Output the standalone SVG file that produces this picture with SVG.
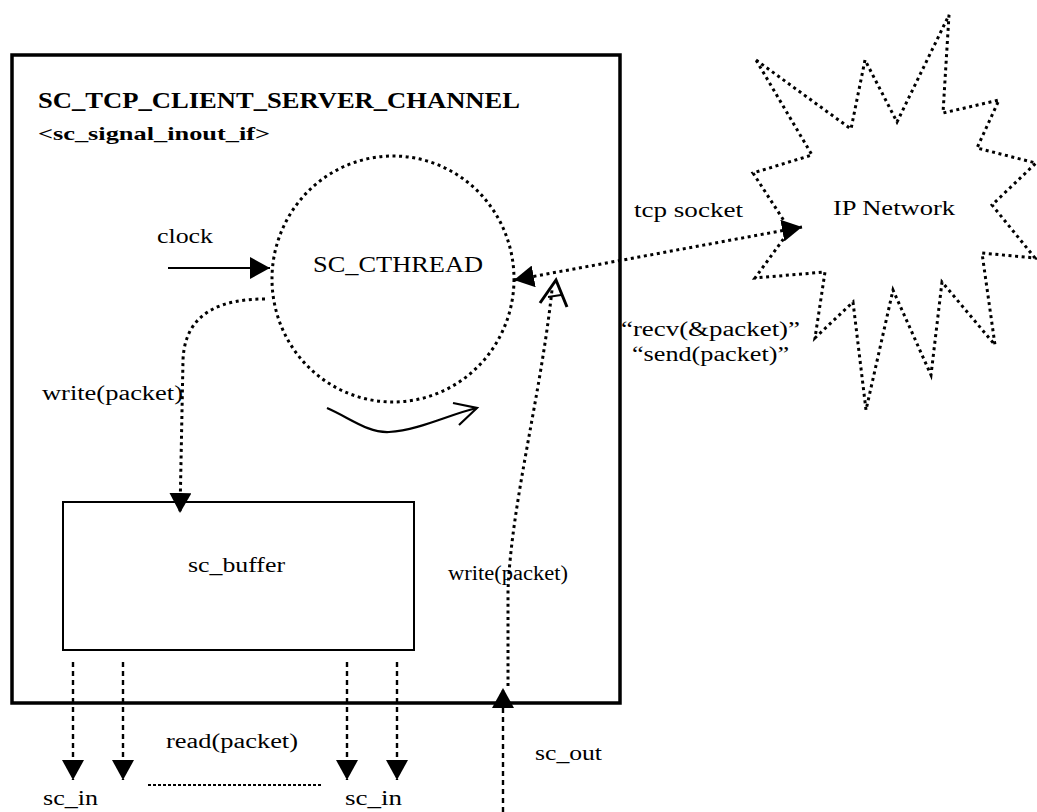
<svg xmlns="http://www.w3.org/2000/svg" width="1037" height="812" viewBox="0 0 1037 812">
<style>
text{font-family:"Liberation Serif","Times New Roman",serif;fill:#000}
.lbl{font-size:20px}
.dot{fill:none;stroke:#000;stroke-width:3;stroke-dasharray:3 3.6}
.dash{fill:none;stroke:#000;stroke-width:2.4;stroke-dasharray:5 4}
.solid{fill:none;stroke:#000;stroke-width:2.2}
</style>
<defs>
<marker id="tri" viewBox="0 0 20 22" refX="20" refY="11" markerWidth="20" markerHeight="22" markerUnits="userSpaceOnUse" orient="auto-start-reverse">
<path d="M0,0 L20,11 L0,22 Z" fill="#000" stroke="none"/>
</marker>
</defs>
<rect width="1037" height="812" fill="#fff"/>
<g id="channel">
<rect x="12" y="55" width="608" height="648" fill="none" stroke="#000" stroke-width="3.5"/>
<text x="38" y="108" font-size="24" font-weight="bold" textLength="482" lengthAdjust="spacingAndGlyphs">SC_TCP_CLIENT_SERVER_CHANNEL</text>
<text x="38" y="140" font-size="19" font-weight="bold" textLength="232" lengthAdjust="spacingAndGlyphs">&lt;sc_signal_inout_if&gt;</text>
</g>
<g id="cthread">
<ellipse cx="393" cy="279" rx="121" ry="123" class="dot"/>
<text x="313" y="272" font-size="23" textLength="170" lengthAdjust="spacingAndGlyphs">SC_CTHREAD</text>
</g>
<g id="buffer">
<rect x="63" y="502" width="351" height="148" fill="none" stroke="#000" stroke-width="2"/>
<text x="188" y="572" class="lbl" textLength="97" lengthAdjust="spacingAndGlyphs">sc_buffer</text>
</g>
<g id="network">
<polygon class="dot" points="756,60 851,129 865,60 897,122 949,15 943,113 999,100 977,148 1036,163 992,205 1035,258 982,253 995,345 942,282 931,375 893,290 866,410 853,302 815,338 825,272 755,278 790,230 753,173 812,155"/>
<text x="833" y="215" class="lbl" textLength="122" lengthAdjust="spacingAndGlyphs">IP Network</text>
</g>
<g id="connectors">
<line x1="168" y1="268" x2="270" y2="268" class="solid" marker-end="url(#tri)"/>
<path d="M265,299 C225,299 185,310 183,360 L180,513" class="dot" marker-end="url(#tri)"/>
<path d="M327,408 C350,418 368,433 389,432 C420,430 450,414 477,408" class="solid"/>
<polyline points="453,403 477,408 459,425" class="solid"/>
<line x1="514" y1="280" x2="802" y2="227" class="dot" marker-start="url(#tri)" marker-end="url(#tri)"/>
<path d="M508,686 L508,590 C512,500 540,400 552,290" class="dot"/>
<polyline points="540,303 556,280 567,307" fill="none" stroke="#000" stroke-width="3"/>
<line x1="548" y1="297" x2="561" y2="295" stroke="#000" stroke-width="2"/>
<line x1="503" y1="812" x2="503" y2="688" class="dash" marker-end="url(#tri)"/>
<line x1="73" y1="662" x2="73" y2="780" class="dash" marker-end="url(#tri)"/>
<line x1="123" y1="662" x2="123" y2="780" class="dash" marker-end="url(#tri)"/>
<line x1="347" y1="662" x2="347" y2="780" class="dash" marker-end="url(#tri)"/>
<line x1="397" y1="662" x2="397" y2="780" class="dash" marker-end="url(#tri)"/>
<line x1="148" y1="785" x2="323" y2="785" stroke="#000" stroke-width="2" stroke-dasharray="3 2"/>
</g>
<g id="labels">
<text x="157" y="243" class="lbl" textLength="56" lengthAdjust="spacingAndGlyphs">clock</text>
<text x="42" y="400" class="lbl" textLength="141" lengthAdjust="spacingAndGlyphs">write(packet)</text>
<text x="448" y="580" class="lbl" textLength="120" lengthAdjust="spacingAndGlyphs">write(packet)</text>
<text x="634" y="217" class="lbl" textLength="109" lengthAdjust="spacingAndGlyphs">tcp socket</text>
<text x="621" y="336" class="lbl" textLength="179" lengthAdjust="spacingAndGlyphs">“recv(&amp;packet)”</text>
<text x="632" y="361" class="lbl" textLength="157" lengthAdjust="spacingAndGlyphs">“send(packet)”</text>
<text x="166" y="748" class="lbl" textLength="132" lengthAdjust="spacingAndGlyphs">read(packet)</text>
<text x="43" y="805" class="lbl" textLength="55" lengthAdjust="spacingAndGlyphs">sc_in</text>
<text x="345" y="805" class="lbl" textLength="57" lengthAdjust="spacingAndGlyphs">sc_in</text>
<text x="535" y="760" class="lbl" textLength="67" lengthAdjust="spacingAndGlyphs">sc_out</text>
</g>
</svg>
